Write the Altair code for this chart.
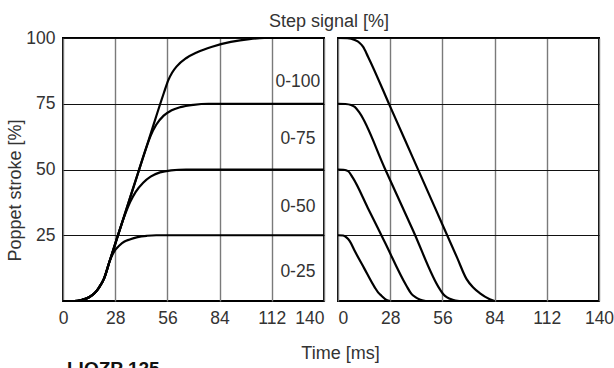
import altair as alt
import pandas as pd

FONT = "Liberation Sans"
TEXT_COLOR = "#333333"

TIME_TICKS = [0, 28, 56, 84, 112, 140]
STROKE_TICKS = [25, 50, 75, 100]
STEPS = ["0-25", "0-50", "0-75", "0-100"]

# Opening: poppet stroke (%) against time (ms) for each step signal
rise_25_t = [0, 6, 10, 14, 17, 19.5, 22, 25, 27, 30.4, 33, 35.8, 40, 45, 50, 140]
rise_25_v = [0, 0, 0.4, 1.4, 3.0, 5.3, 8.5, 15.1, 18.3, 21.2, 22.6, 23.4, 24.3, 24.8, 25, 25]

rise_50_t = [0, 6, 10, 14, 17, 19.5, 22, 25, 28, 31, 33.5, 36, 39, 43, 47, 52, 58, 66, 140]
rise_50_v = [0, 0, 0.4, 1.4, 3.0, 5.3, 8.5, 15.1, 21.7, 28.3, 33.3, 37.6, 41.5, 45, 47.3, 48.9, 49.7, 50, 50]

rise_75_t = [0, 6, 10, 14, 17, 19.5, 22, 25, 28, 34, 40, 44, 47, 50, 54, 58, 63, 70, 78, 140]
rise_75_v = [0, 0, 0.4, 1.4, 3.0, 5.3, 8.5, 15.1, 21.7, 34.9, 48.1, 56.9, 62.8, 67, 70.5, 72.4, 73.7, 74.6, 75, 75]

rise_100_t = [0, 6, 10, 14, 17, 19.5, 22, 25, 28, 36, 46, 54, 56.5, 58.5, 61, 66, 72, 80, 90, 100, 108, 140]
rise_100_v = [0, 0, 0.4, 1.4, 3.0, 5.3, 8.5, 15.1, 21.7, 39.3, 61.3, 78.9, 84, 86.8, 89.2, 92.3, 94.6, 96.7, 98.5, 99.6, 100, 100]

# Closing: stroke falling back to zero from each step level
fall_25_t = [0, 2.7, 4.5, 6.3, 9, 14, 19.7, 21.5, 23.3, 26, 28]
fall_25_v = [25, 24.9, 24.2, 22.8, 19, 12.5, 5.2, 3.3, 2.0, 0.4, 0]

fall_50_t = [0, 3, 5.4, 8, 16, 25, 36.7, 39.4, 41.5, 43.8, 47]
fall_50_v = [50, 49.9, 49.4, 46.8, 35.4, 22.5, 5.8, 2.7, 1.5, 0.6, 0]

fall_75_t = [0, 4, 7, 9, 11.6, 25, 40.2, 54.6, 56.5, 58.5, 61.5, 65]
fall_75_v = [75, 74.9, 74.5, 73.8, 71.5, 50.6, 26.9, 4.5, 2.6, 1.4, 0.5, 0]

fall_100_t = [0, 5, 9, 11.5, 13.4, 16.1, 28, 40, 52, 64, 68.9, 72.4, 76, 81.4, 84]
fall_100_v = [100, 99.9, 99.2, 98.2, 96.7, 92.9, 73.9, 54.7, 35.5, 16.3, 8.4, 5.2, 3.0, 0.7, 0]

# Step labels in the last column of the opening panel
label_t = [126, 126, 126, 126]
label_v = [10.9, 35.9, 61.6, 83.4]


def curves(series):
    frames = []
    for name, ts, vs in series:
        frames.append(pd.DataFrame({"t": ts, "v": vs, "step": name, "i": range(len(ts))}))
    return pd.concat(frames, ignore_index=True)


rise = curves([
    ("0-25", rise_25_t, rise_25_v),
    ("0-50", rise_50_t, rise_50_v),
    ("0-75", rise_75_t, rise_75_v),
    ("0-100", rise_100_t, rise_100_v),
])
fall = curves([
    ("0-25", fall_25_t, fall_25_v),
    ("0-50", fall_50_t, fall_50_v),
    ("0-75", fall_75_t, fall_75_v),
    ("0-100", fall_100_t, fall_100_v),
])
labels = pd.DataFrame({"t": label_t, "v": label_v, "step": STEPS})

W, H = 261, 263

x_scale = alt.Scale(domain=[0, 140], nice=False, zero=False)
y_scale = alt.Scale(domain=[0, 100], nice=False)

common_x_axis = dict(
    values=TIME_TICKS, grid=True, gridColor="#7a7a7a", gridWidth=1.4,
    ticks=False, domain=False, labelFlush=False, labelPadding=8,
    labelFont=FONT, labelFontSize=17.5, labelColor=TEXT_COLOR,
)
common_y_axis = dict(
    values=STROKE_TICKS, grid=True, gridColor="#111111", gridWidth=1.2,
    ticks=False, domain=False, labelFlush=False,
)

# The two inner end labels ("140" | "0") sit against the gap between panels
left_x = alt.X(
    "t:Q", scale=x_scale,
    axis=alt.Axis(
        title="Time [ms]", titleX=277, titleY=57, titleAlign="center",
        titleBaseline="alphabetic", titleFont=FONT, titleFontSize=18,
        titleFontWeight="normal", titleColor=TEXT_COLOR,
        labelAlign=alt.expr("datum.value == 140 ? 'right' : 'center'"),
        **common_x_axis,
    ),
)
left_y = alt.Y(
    "v:Q", scale=y_scale,
    axis=alt.Axis(
        title="Poppet stroke [%]", titleX=-48, titleY=152, titleAngle=270,
        titleAlign="center", titleBaseline="middle", titleFont=FONT,
        titleFontSize=18, titleFontWeight="normal", titleColor=TEXT_COLOR,
        labelPadding=8, labelFont=FONT, labelFontSize=17.5, labelColor=TEXT_COLOR,
        **common_y_axis,
    ),
)

rise_lines = alt.Chart(rise).mark_line(
    color="black", strokeWidth=2.2, interpolate="monotone"
).encode(x=left_x, y=left_y, detail="step:N", order="i:Q")

step_text = alt.Chart(labels).mark_text(
    font=FONT, fontSize=17.5, color=TEXT_COLOR, align="center", baseline="middle"
).encode(x="t:Q", y="v:Q", text="step:N")

heading = alt.Chart(pd.DataFrame({"txt": ["Step signal [%]"]})).mark_text(
    font=FONT, fontSize=18, color=TEXT_COLOR, align="center", baseline="alphabetic"
).encode(text="txt:N", x=alt.value(266), y=alt.value(-11))

model = alt.Chart(pd.DataFrame({"txt": ["LIOZP 125"]})).mark_text(
    font=FONT, fontSize=19, fontWeight="bold", color="#111111", align="left",
    baseline="alphabetic"
).encode(text="txt:N", x=alt.value(4), y=alt.value(337))

left = alt.layer(rise_lines, step_text, heading, model).properties(width=W, height=H)

right_x = alt.X(
    "t:Q", scale=x_scale,
    axis=alt.Axis(
        title=None,
        labelAlign=alt.expr("datum.value == 0 ? 'left' : 'center'"),
        **common_x_axis,
    ),
)
right_y = alt.Y("v:Q", scale=y_scale, axis=alt.Axis(title=None, labels=False, **common_y_axis))

right = alt.Chart(fall).mark_line(
    color="black", strokeWidth=2.2, interpolate="monotone"
).encode(x=right_x, y=right_y, detail="step:N", order="i:Q").properties(width=W, height=H)

# The page frame: the first panel's plot area starts 63 px in and 38 px down;
# flush bounds keep the panels 14 px apart regardless of titles and labels
chart = alt.hconcat(left, right, spacing=14, bounds="flush").properties(
    autosize=alt.AutoSizeParams(type="none"),
    padding={"left": 63, "top": 38, "right": 551, "bottom": 330},
    background="white",
).configure_view(stroke="black", strokeWidth=2)

chart.save("out.html", embed_options={"renderer": "svg", "actions": False})
